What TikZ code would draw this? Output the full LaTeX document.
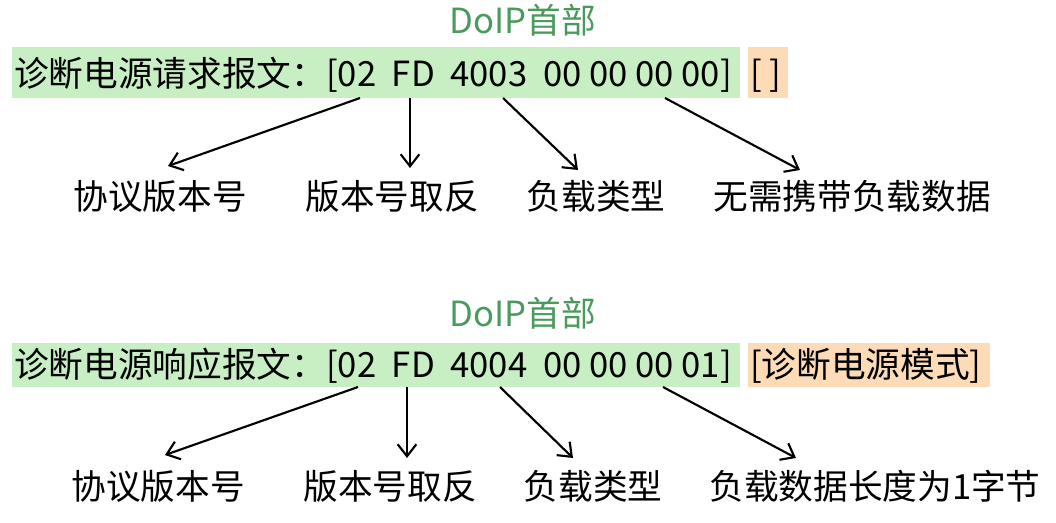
\documentclass[tikz,border=0pt]{standalone}
\usepackage{fontspec}
\setmainfont{Noto Sans CJK SC}
\begin{document}
\begin{tikzpicture}[x=0.75pt,y=-0.75pt]
\definecolor{gbox}{HTML}{C8EFC4}
\definecolor{obox}{HTML}{FDDBB6}
\definecolor{gtxt}{HTML}{4A9A5E}
\tikzset{big/.style={font=\fontsize{26}{30}\selectfont, inner sep=0pt},
arr/.style={-{Straight Barb[length=9pt,width=14pt]}, line width=1.6pt},
lbl/.style={font=\fontsize{26}{30}\selectfont, inner sep=0pt, anchor=base}}
\usetikzlibrary{arrows.meta}
\useasboundingbox (0,0) rectangle (1056,522);
% top
\fill[gbox] (12,47) rectangle (740,98);
\fill[obox] (748,47) rectangle (788,98);
\node[lbl, text=gtxt] (h1) at (523,33) {DoIP首部};
\node[lbl, anchor=base west] (t1) at (14,86) {诊断电源请求报文：[02\ \ FD\ \ 4003\ \ 00 00 00 00]};
\node[lbl, anchor=base west] (o1) at (750,86) {[ ]};
\coordinate (s1) at (360,98); \coordinate (s2) at (410,98); \coordinate (s3) at (503,98); \coordinate (s4) at (665,98);
\node[lbl] (a1) at (160,209) {协议版本号};
\node[lbl] (a2) at (392,209) {版本号取反};
\node[lbl] (a3) at (596,209) {负载类型};
\node[lbl] (a4) at (852,209) {无需携带负载数据};
\coordinate (e1) at (168,166); \coordinate (e2) at (410,168); \coordinate (e3) at (578,170); \coordinate (e4) at (800,170);
\draw[arr] (s1)--(e1); \draw[arr] (s2)--(e2); \draw[arr] (s3)--(e3); \draw[arr] (s4)--(e4);
% bottom
\fill[gbox] (12,343) rectangle (740,387);
\fill[obox] (748,343) rectangle (990,387);
\node[lbl, text=gtxt] (h2) at (523,326) {DoIP首部};
\node[lbl, anchor=base west] (t2) at (14,377) {诊断电源响应报文：[02\ \ FD\ \ 4004\ \ 00 00 00 01]};
\node[lbl, anchor=base west] (o2) at (750,377) {[诊断电源模式]};
\coordinate (u1) at (358,387); \coordinate (u2) at (407,387); \coordinate (u3) at (500,387); \coordinate (u4) at (663,387);
\node[lbl] (b1) at (158,499) {协议版本号};
\node[lbl] (b2) at (390,499) {版本号取反};
\node[lbl] (b3) at (593,499) {负载类型};
\node[lbl] (b4) at (875,499) {负载数据长度为1字节};
\coordinate (f1) at (165,455); \coordinate (f2) at (407,458); \coordinate (f3) at (573,458); \coordinate (f4) at (796,458);
\draw[arr] (u1)--(f1); \draw[arr] (u2)--(f2); \draw[arr] (u3)--(f3); \draw[arr] (u4)--(f4);
\end{tikzpicture}
\end{document}
